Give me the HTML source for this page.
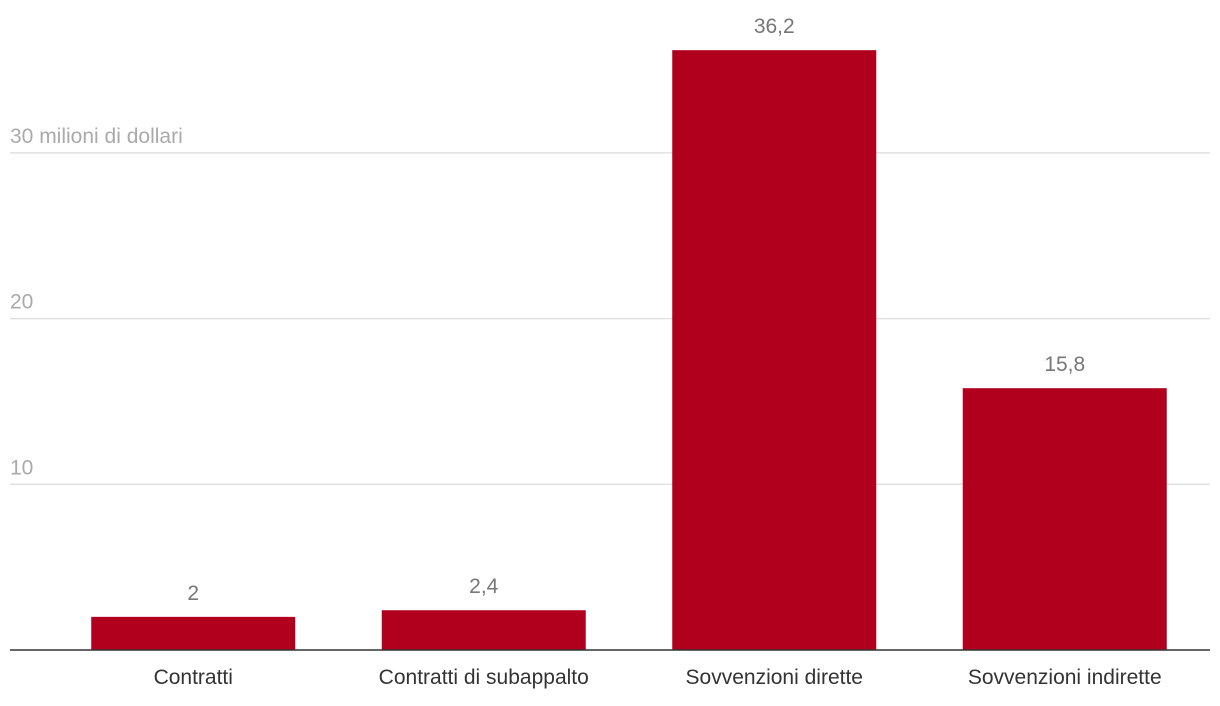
<!DOCTYPE html>
<html><head><meta charset="utf-8"><style>
html,body{margin:0;padding:0;background:#fff;}
svg{display:block;font-family:"Liberation Sans",sans-serif;}
</style></head><body>
<svg id="chart" width="1220" height="706"></svg>
<script>
const categories=["Contratti","Contratti di subappalto","Sovvenzioni dirette","Sovvenzioni indirette"];
const values=[2,2.4,36.2,15.8];
const valueLabels=["2","2,4","36,2","15,8"];
const tickValues=[10,20,30];
const tickLabels=["10","20","30 milioni di dollari"];
const NS="http://www.w3.org/2000/svg";
const svg=document.getElementById('chart');
const x0=48,x1=1210,yBase=650,pxPerUnit=16.57;
const y=v=>yBase-v*pxPerUnit;
const band=(x1-x0)/categories.length,bw=204;
function mk(t,a){const e=document.createElementNS(NS,t);for(const k in a)e.setAttribute(k,a[k]);svg.appendChild(e);return e;}
tickValues.forEach((v,i)=>{
  const l=mk('line',{x1:10,x2:1210,y1:y(v),y2:y(v),stroke:'#e0e0e0','stroke-width':1.5});
  
  
  const t=mk('text',{x:10,y:y(v)-10,fill:'#aaaaaa','font-size':21});
  t.textContent=tickLabels[i];
  
  
});
categories.forEach((c,i)=>{
  const cx=x0+band*(i+0.5);
  const r=mk('rect',{x:cx-bw/2,y:y(values[i]),width:bw,height:yBase-y(values[i]),fill:'#b0001e'});
  
  
  const vl=mk('text',{x:cx,y:y(values[i])-17,fill:'#777777','font-size':21,'text-anchor':'middle'});
  vl.textContent=valueLabels[i];
  
  
  const cl=mk('text',{x:cx,y:684,fill:'#333333','font-size':21,'text-anchor':'middle'});
  cl.textContent=c;
  
  
});
const ax=mk('line',{x1:10,x2:1210,y1:yBase,y2:yBase,stroke:'#333','stroke-width':1.5});


</script>
</body></html>
